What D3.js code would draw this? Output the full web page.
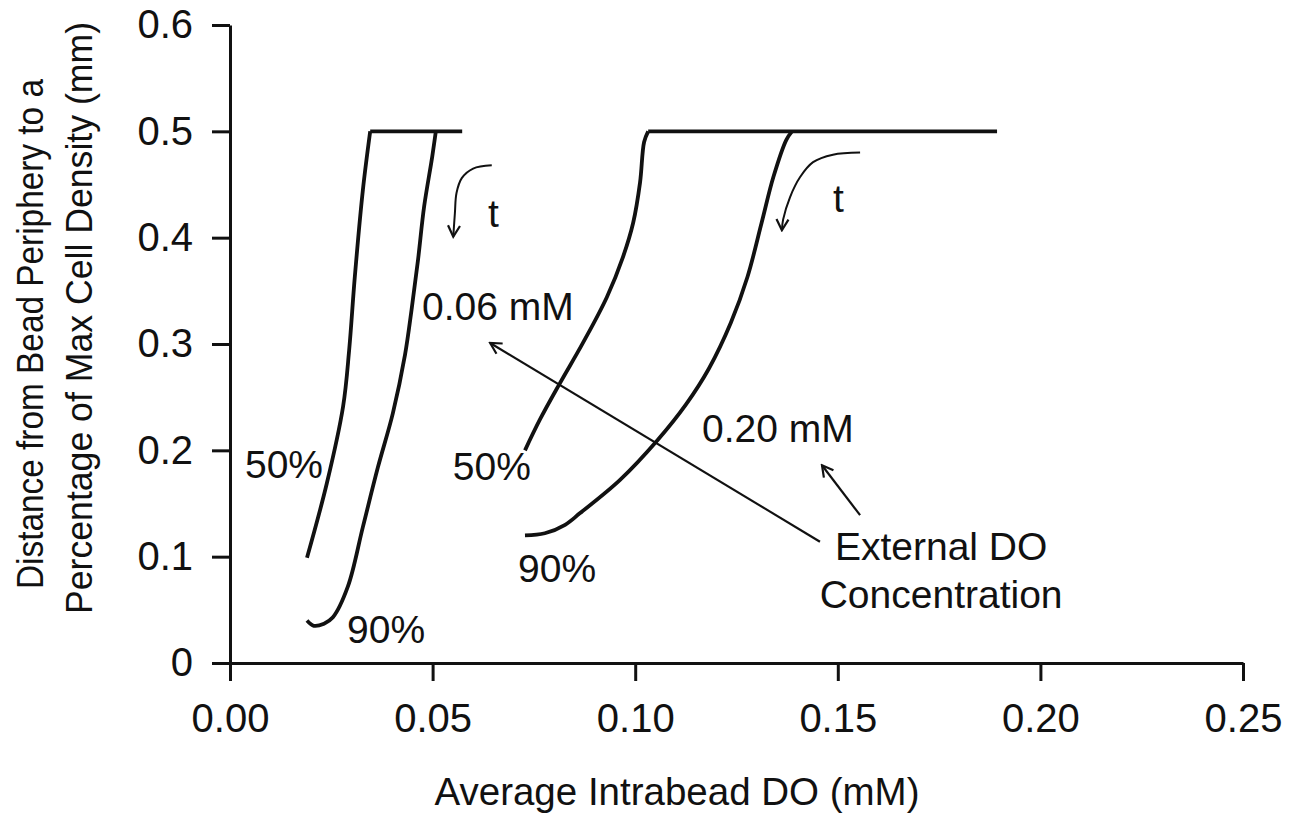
<!DOCTYPE html>
<html>
<head>
<meta charset="utf-8">
<script src="https://cdn.jsdelivr.net/npm/d3@7"></script>
<style>
  body { margin: 0; background: #fff; }
  svg { display: block; font-family: "Liberation Sans", Arial, sans-serif; }
</style>
</head>
<body>
<svg id="chart" width="1305" height="818"></svg>
<script>
// axis ticks
const xTicks = [0, 0.05, 0.1, 0.15, 0.2, 0.25];
const xTickLabels = ["0.00", "0.05", "0.10", "0.15", "0.20", "0.25"];
const yTicks = [0, 0.1, 0.2, 0.3, 0.4, 0.5, 0.6];
const yTickLabels = ["0", "0.1", "0.2", "0.3", "0.4", "0.5", "0.6"];

// curves, [average intrabead DO (mM), distance (mm)]
const do006Pct50 = [[0.0190, 0.099], [0.0239, 0.169], [0.0279, 0.241], [0.0294, 0.294],
  [0.0308, 0.363], [0.0328, 0.445], [0.0346, 0.5]];
const do006Pct90 = [[0.0190, 0.040], [0.0207, 0.035], [0.0232, 0.037], [0.0254, 0.043],
  [0.0291, 0.072], [0.0328, 0.128], [0.0365, 0.184], [0.0402, 0.235], [0.0432, 0.290],
  [0.0448, 0.332], [0.0464, 0.379], [0.0479, 0.429], [0.0499, 0.476], [0.0508, 0.5]];
const do006Plateau = [[0.0346, 0.5], [0.0573, 0.5]];

const do020Pct50 = [[0.0728, 0.200], [0.0765, 0.229], [0.0814, 0.263], [0.0871, 0.301],
  [0.0930, 0.344], [0.0970, 0.382], [0.0995, 0.414], [0.1012, 0.452], [0.1022, 0.490],
  [0.1032, 0.5]];
const do020Pct90 = [[0.0728, 0.120], [0.0777, 0.122], [0.0827, 0.130], [0.0864, 0.141],
  [0.0962, 0.172], [0.1056, 0.210], [0.1125, 0.243], [0.1182, 0.277], [0.1236, 0.320],
  [0.1277, 0.363], [0.1312, 0.414], [0.1341, 0.457], [0.1373, 0.492], [0.1387, 0.5]];
const do020Plateau = [[0.1032, 0.5], [0.1893, 0.5]];

// annotation arrows (data units)
const arrowLong = [[0.1456, 0.114], [0.0642, 0.301]];
const arrowShort = [[0.1555, 0.139], [0.1461, 0.186]];
const tArrowLow = [[0.0646, 0.468], [0.0600, 0.465], [0.0572, 0.456], [0.0559, 0.442],
  [0.0555, 0.423], [0.0551, 0.401]];
const tArrowHigh = [[0.1555, 0.480], [0.1488, 0.478], [0.1439, 0.471], [0.1407, 0.457],
  [0.1382, 0.438], [0.1365, 0.417], [0.1362, 0.407]];

// text labels: [x, y, text, anchor]
const labels = [
  [0.0474, 0.323, "0.06 mM", "start"],
  [0.1165, 0.208, "0.20 mM", "start"],
  [0.0037, 0.174, "50%", "start"],
  [0.0289, 0.019, "90%", "start"],
  [0.0550, 0.172, "50%", "start"],
  [0.0711, 0.076, "90%", "start"],
  [0.0637, 0.410, "t", "start"],
  [0.1488, 0.424, "t", "start"],
  [0.1755, 0.097, "External DO", "middle"],
  [0.1755, 0.052, "Concentration", "middle"],
];

const svg = d3.select("#chart");
const margin = { top: 25, right: 62, bottom: 155, left: 230 };
const width = 1305 - margin.left - margin.right;
const height = 818 - margin.top - margin.bottom;

const x = d3.scaleLinear().domain([0, 0.25]).range([0, width]);
const y = d3.scaleLinear().domain([0, 0.6]).range([height, 0]);

const g = svg.append("g").attr("transform", `translate(${margin.left},${margin.top})`);

const defs = svg.append("defs");
defs.append("marker")
  .attr("id", "head")
  .attr("viewBox", "-12 -8 14 16")
  .attr("markerUnits", "userSpaceOnUse")
  .attr("markerWidth", 14)
  .attr("markerHeight", 16)
  .attr("refX", 0)
  .attr("refY", 0)
  .attr("orient", "auto")
  .append("path")
  .attr("d", "M-11,-6 L0,0 L-11,6")
  .attr("fill", "none")
  .attr("stroke", "#111")
  .attr("stroke-width", 2.2);

// axes
const xAxis = g.append("g")
  .attr("transform", `translate(0,${height})`)
  .call(d3.axisBottom(x).tickValues(xTicks)
    .tickFormat((d, i) => xTickLabels[i])
    .tickSizeInner(18).tickSizeOuter(0).tickPadding(23));
const yAxis = g.append("g")
  .call(d3.axisLeft(y).tickValues(yTicks)
    .tickFormat((d, i) => yTickLabels[i])
    .tickSizeInner(18).tickSizeOuter(0).tickPadding(19));

[xAxis, yAxis].forEach((ax) => {
  ax.attr("font-size", 40).attr("font-family", null);
  ax.selectAll("path, line").attr("stroke", "#111").attr("stroke-width", 3);
  ax.selectAll("text").attr("fill", "#111");
});

// curves
const smooth = d3.line().x((d) => x(d[0])).y((d) => y(d[1])).curve(d3.curveCatmullRom.alpha(0.5));
const straight = d3.line().x((d) => x(d[0])).y((d) => y(d[1]));

[do006Pct50, do006Pct90, do020Pct50, do020Pct90].forEach((s) => {
  g.append("path").attr("d", smooth(s))
    .attr("fill", "none").attr("stroke", "#111").attr("stroke-width", 3.8)
    .attr("stroke-linejoin", "round");
});
[do006Plateau, do020Plateau].forEach((s) => {
  g.append("path").attr("d", straight(s))
    .attr("fill", "none").attr("stroke", "#111").attr("stroke-width", 3.8)
    .attr("stroke-linejoin", "round");
});

// annotation arrows
[arrowLong, arrowShort].forEach((a) => {
  g.append("path").attr("d", straight(a))
    .attr("fill", "none").attr("stroke", "#111").attr("stroke-width", 2.2)
    .attr("marker-end", "url(#head)");
});
[tArrowLow, tArrowHigh].forEach((a) => {
  g.append("path").attr("d", smooth(a))
    .attr("fill", "none").attr("stroke", "#111").attr("stroke-width", 2)
    .attr("marker-end", "url(#head)");
});

// text
g.selectAll(".lbl")
  .data(labels)
  .enter()
  .append("text")
  .attr("class", "lbl")
  .attr("x", (d) => x(d[0]))
  .attr("y", (d) => y(d[1]))
  .attr("text-anchor", (d) => d[3])
  .attr("font-size", 39)
  .attr("fill", "#111")
  .text((d) => d[2]);

// axis titles
svg.append("text")
  .attr("x", 677)
  .attr("y", 805)
  .attr("text-anchor", "middle")
  .attr("font-size", 38.5)
  .attr("fill", "#111")
  .text("Average Intrabead DO (mM)");

svg.append("text")
  .attr("transform", "translate(43,589) rotate(-90)")
  .attr("font-size", 36)
  .attr("textLength", 510)
  .attr("lengthAdjust", "spacingAndGlyphs")
  .attr("fill", "#111")
  .text("Distance from Bead Periphery to a");
svg.append("text")
  .attr("transform", "translate(92,614) rotate(-90)")
  .attr("font-size", 36)
  .attr("textLength", 592)
  .attr("lengthAdjust", "spacingAndGlyphs")
  .attr("fill", "#111")
  .text("Percentage of Max Cell Density (mm)");
</script>
</body>
</html>
